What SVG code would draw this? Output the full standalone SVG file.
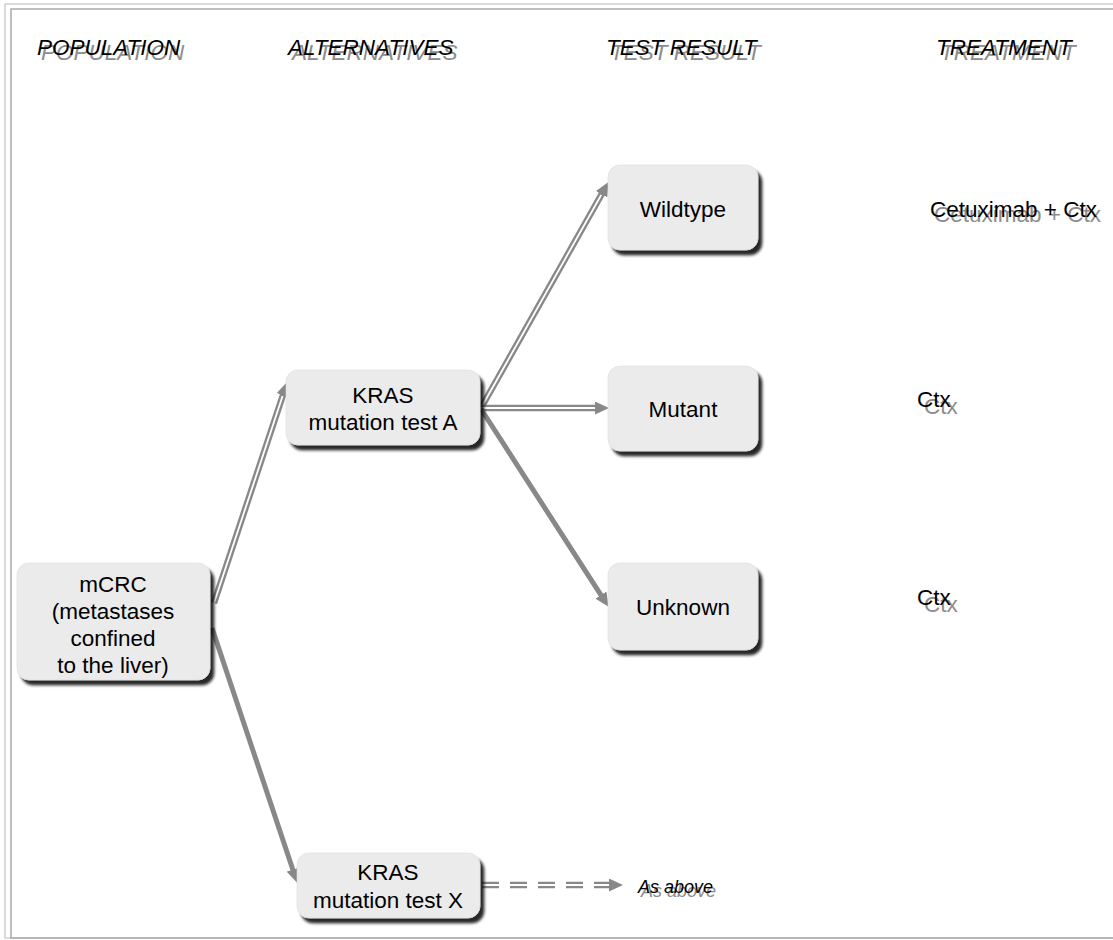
<svg xmlns="http://www.w3.org/2000/svg" width="1113" height="940" viewBox="0 0 1113 940">
<style>
.node rect{fill:#ebebeb;stroke:#dcdcdc;stroke-width:0.6}
.nt{font-family:"Liberation Sans",Arial,sans-serif;font-size:22.5px;fill:#000;text-anchor:middle}
.hd{font-family:"Liberation Sans",Arial,sans-serif;font-size:22.5px;font-style:italic}
.tr{font-family:"Liberation Sans",Arial,sans-serif;font-size:22.5px}
.sh{fill:#8c8c8c}
.fg{fill:#000}
.outer{fill:none;stroke:#888;stroke-width:6.5}
.inner{fill:none;stroke:#fff;stroke-width:1.8}
.solid{fill:none;stroke:#888;stroke-width:5}
</style>
<defs>
<filter id="ds" x="-10%" y="-10%" width="130%" height="140%">
<feGaussianBlur in="SourceAlpha" stdDeviation="1.8"/>
<feOffset dx="4" dy="5" result="b"/>
<feComponentTransfer><feFuncA type="linear" slope="0.85"/></feComponentTransfer>
<feMerge><feMergeNode/><feMergeNode in="SourceGraphic"/></feMerge>
</filter>
<marker id="ah" markerUnits="userSpaceOnUse" markerWidth="14" markerHeight="13" refX="3" refY="6.5" orient="auto">
<path d="M0,0 L14,6.5 L0,13 z" fill="#888"/>
</marker>
</defs>
<rect x="5" y="4" width="1130" height="934" fill="none" stroke="#cfcfcf" stroke-width="1.5"/>
<rect x="11" y="9" width="1130" height="929" fill="none" stroke="#aaa" stroke-width="1.5"/>

<g id="headers">
<text class="hd sh" x="41" y="60">POPULATION</text><text class="hd fg" x="37" y="55">POPULATION</text>
<text class="hd sh" x="292" y="60">ALTERNATIVES</text><text class="hd fg" x="288" y="55">ALTERNATIVES</text>
<text class="hd sh" x="610" y="60">TEST RESULT</text><text class="hd fg" x="606" y="55">TEST RESULT</text>
<text class="hd sh" x="940" y="60">TREATMENT</text><text class="hd fg" x="936" y="55">TREATMENT</text>
</g>

<g id="connectors">
<path class="outer" d="M214,603 L283.9,392.3" marker-end="url(#ah)"/>
<path class="inner" d="M214,603 L282.6,396"/>
<path class="solid" d="M212,628 L293.8,872.5" marker-end="url(#ah)"/>
<path class="outer" d="M481,408 L603.1,191.7" marker-end="url(#ah)"/>
<path class="inner" d="M481,408 L601.2,195"/>
<path class="outer" d="M481,408 L598,408" marker-end="url(#ah)"/>
<path class="inner" d="M481,408 L595,408"/>
<path class="solid" d="M481,409 L602.6,597.6" marker-end="url(#ah)"/>
<path class="outer" d="M482,885 L612,885" stroke-dasharray="17 11" marker-end="url(#ah)"/>
<path class="inner" d="M482,885 L609,885" stroke-dasharray="17 11"/>
</g>

<g id="n-mcrc" class="node">
<rect x="17" y="563" width="193" height="117" rx="12" filter="url(#ds)"/>
<text class="nt" x="113" y="592">mCRC</text>
<text class="nt" x="113" y="619">(metastases</text>
<text class="nt" x="113" y="646">confined</text>
<text class="nt" x="113" y="673">to the liver)</text>
</g>
<g id="n-krasA" class="node">
<rect x="286" y="370" width="194" height="75" rx="12" filter="url(#ds)"/>
<text class="nt" x="383" y="403">KRAS</text>
<text class="nt" x="383" y="430">mutation test A</text>
</g>
<g id="n-krasX" class="node">
<rect x="297" y="853" width="183" height="65" rx="12" filter="url(#ds)"/>
<text class="nt" x="388" y="880">KRAS</text>
<text class="nt" x="388" y="908">mutation test X</text>
</g>
<g id="n-wild" class="node">
<rect x="608" y="165" width="150" height="85" rx="12" filter="url(#ds)"/>
<text class="nt" x="683" y="217">Wildtype</text>
</g>
<g id="n-mut" class="node">
<rect x="608" y="366" width="150" height="85" rx="12" filter="url(#ds)"/>
<text class="nt" x="683" y="417">Mutant</text>
</g>
<g id="n-unk" class="node">
<rect x="608" y="563" width="150" height="87" rx="12" filter="url(#ds)"/>
<text class="nt" x="683" y="615">Unknown</text>
</g>

<g id="treatments">
<text class="tr sh" x="934" y="222">Cetuximab + Ctx</text><text class="tr fg" x="930" y="217">Cetuximab + Ctx</text>
<text class="tr sh" x="924" y="414">Ctx</text><text class="tr fg" x="917" y="407">Ctx</text>
<text class="tr sh" x="924" y="612">Ctx</text><text class="tr fg" x="917" y="605">Ctx</text>
<text class="hd sh" x="641" y="897" style="font-size:18px">As above</text><text class="hd fg" x="638" y="893" style="font-size:18px">As above</text>
</g>
</svg>
